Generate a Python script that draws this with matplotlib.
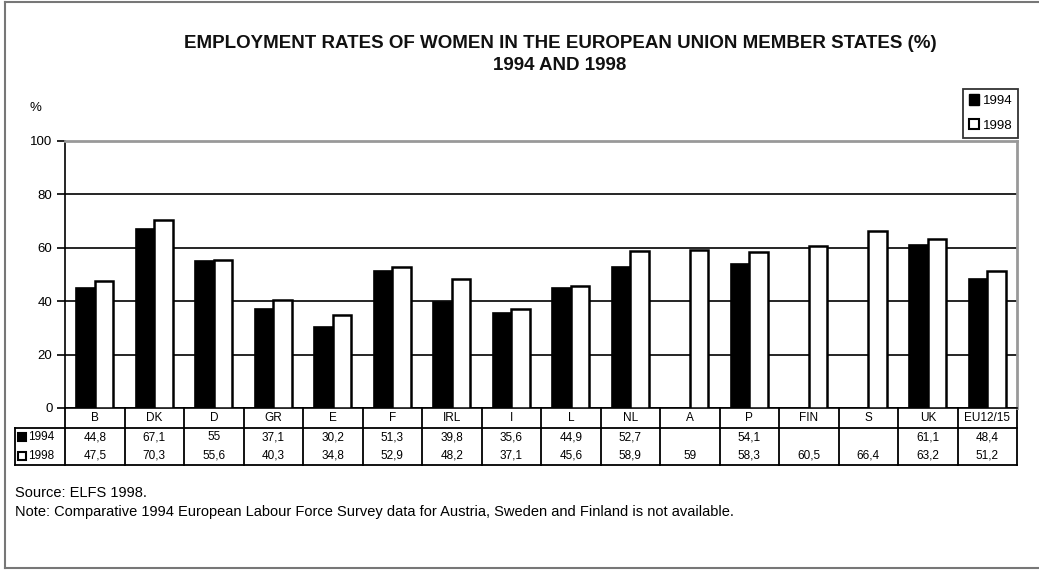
import numpy as np
import matplotlib.pyplot as plt
from matplotlib.lines import Line2D
from matplotlib.patches import Patch

plt.rcParams['font.family'] = ['Liberation Sans', 'DejaVu Sans']

# countries
countries = ['B', 'DK', 'D', 'GR', 'E', 'F', 'IRL', 'I', 'L', 'NL',
             'A', 'P', 'FIN', 'S', 'UK', 'EU12/15']

# employment rates (%), nan = not available
rate_1994 = np.array([44.8, 67.1, 55, 37.1, 30.2, 51.3, 39.8, 35.6, 44.9, 52.7,
                      np.nan, 54.1, np.nan, np.nan, 61.1, 48.4])
rate_1998 = np.array([47.5, 70.3, 55.6, 40.3, 34.8, 52.9, 48.2, 37.1, 45.6, 58.9,
                      59, 58.3, 60.5, 66.4, 63.2, 51.2])
years = ['1994', '1998']


def fmt(v):
    if np.isnan(v):
        return ''
    return f'{v:g}'.replace('.', ',')


fig = plt.figure(figsize=(10.39, 5.71), dpi=100)
ax = fig.add_axes([0.0626, 0.2855, 0.9163, 0.4676])

x = np.arange(len(countries))
w = 0.31
m94 = ~np.isnan(rate_1994)
ax.bar(x[m94] - w / 2, rate_1994[m94], width=w, color='black',
       edgecolor='black', linewidth=1.2, zorder=3)
ax.bar(x + w / 2, rate_1998, width=w, color='white',
       edgecolor='black', linewidth=1.8, zorder=3)

ax.set_xlim(-0.5, len(countries) - 0.5)
ax.set_ylim(0, 100)
ax.set_yticks(range(0, 101, 20))
ax.set_xticks([])
ax.tick_params(axis='y', direction='out', length=6, width=1.2,
               labelsize=9.5, pad=3)
ax.yaxis.grid(True, color='black', linewidth=1.2)
ax.set_axisbelow(True)
for s in ['top', 'right']:
    ax.spines[s].set_color('#999999')
    ax.spines[s].set_linewidth(2)
ax.spines['left'].set_linewidth(1.2)
ax.spines['bottom'].set_linewidth(1.2)

# data table under the chart
tr = ax.get_xaxis_transform()
h_head = 0.075
h_row = 0.0693
y_bot = -(h_head + 2 * h_row)
x_left = -1.34
x_right = len(countries) - 0.5
lkw = dict(color='black', linewidth=1.3, transform=tr, clip_on=False)
ax.plot([x_left, x_right], [-h_head, -h_head], **lkw)
ax.plot([x_left, x_right], [y_bot, y_bot], **lkw)
ax.plot([x_left, x_left], [-h_head, y_bot], **lkw)
for k in range(len(countries) + 1):
    ax.plot([k - 0.5, k - 0.5], [0, y_bot], **lkw)

for i, c in enumerate(countries):
    ax.text(i, -h_head / 2, c, transform=tr, ha='center', va='center', fontsize=8.5)
    ax.text(i, -h_head - h_row / 2, fmt(rate_1994[i]), transform=tr,
            ha='center', va='center', fontsize=8.5)
    ax.text(i, -h_head - 1.5 * h_row, fmt(rate_1998[i]), transform=tr,
            ha='center', va='center', fontsize=8.5)

for j, (yr, fc) in enumerate(zip(years, ['black', 'white'])):
    yy = -h_head - (j + 0.5) * h_row
    ax.plot([x_left + 0.11], [yy], marker='s', markersize=6, markerfacecolor=fc,
            markeredgecolor='black', markeredgewidth=1.5, transform=tr, clip_on=False)
    ax.text(x_left + 0.22, yy, yr, transform=tr, ha='left', va='center', fontsize=8.5)

# legend
handles = [Patch(facecolor='black', edgecolor='black', label='1994'),
           Patch(facecolor='white', edgecolor='black', linewidth=1.5, label='1998')]
leg = fig.legend(handles=handles, loc='upper right', bbox_to_anchor=(0.98, 0.845),
                 fontsize=9.5, frameon=True, fancybox=False, handlelength=0.8,
                 handleheight=0.8, handletextpad=0.25, borderpad=0.45,
                 labelspacing=0.9, borderaxespad=0)
leg.get_frame().set_edgecolor('black')
leg.get_frame().set_linewidth(1.3)

# titles and notes
fig.text(0.539, 1 - 43 / 571, 'EMPLOYMENT RATES OF WOMEN IN THE EUROPEAN UNION MEMBER STATES (%)',
         ha='center', va='center', fontsize=13.5, fontweight='bold', color='#111111')
fig.text(0.539, 1 - 66 / 571, '1994 AND 1998', ha='center', va='center',
         fontsize=13.5, fontweight='bold', color='#111111')
fig.text(35 / 1039, 1 - 108 / 571, '%', ha='center', va='center', fontsize=9.5)
fig.text(15 / 1039, 1 - 493 / 571, 'Source: ELFS 1998.', ha='left', va='center', fontsize=10.5)
fig.text(15 / 1039, 1 - 512 / 571,
         'Note: Comparative 1994 European Labour Force Survey data for Austria, '
         'Sweden and Finland is not available.', ha='left', va='center', fontsize=10.5)

# outer frame
fkw = dict(color='#777777', linewidth=1.5, transform=fig.transFigure)
fig.add_artist(Line2D([5 / 1039, 5 / 1039], [1 - 568 / 571, 1 - 2 / 571], **fkw))
fig.add_artist(Line2D([5 / 1039, 1], [1 - 2 / 571, 1 - 2 / 571], **fkw))
fig.add_artist(Line2D([5 / 1039, 1], [1 - 568 / 571, 1 - 568 / 571], **fkw))

fig.savefig('out.png', dpi=100)
